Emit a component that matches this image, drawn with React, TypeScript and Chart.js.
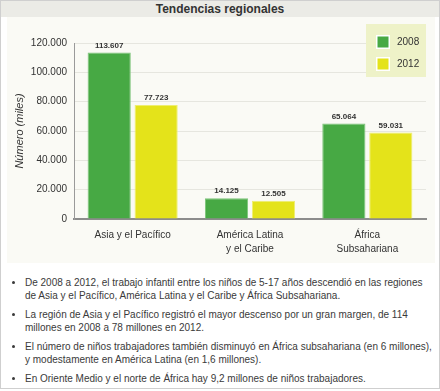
import React, { useEffect, useRef } from "react";
import { Chart, registerables } from "chart.js";

Chart.register(...registerables);

const categories: string[][] = [
  ["Asia y el Pacífico"],
  ["América Latina", "y el Caribe"],
  ["África", "Subsahariana"],
];
const seriesLabels = ["2008", "2012"];
const values2008 = [113607, 14125, 65064];
const values2012 = [77723, 12505, 59031];
const yMax = 120000;
const yStep = 20000;
const yTitle = "Número (miles)";
const chartTitle = "Tendencias regionales";
const bullets = [
  "De 2008 a 2012, el trabajo infantil entre los niños de 5-17 años descendió en las regiones de Asia y el Pacífico, América Latina y el Caribe y África Subsahariana.",
  "La región de Asia y el Pacífico registró el mayor descenso por un gran margen, de 114 millones en 2008 a 78 millones en 2012.",
  "El número de niños trabajadores también disminuyó en África subsahariana (en 6 millones), y modestamente en América Latina (en 1,6 millones).",
  "En Oriente Medio y el norte de África hay 9,2 millones de niños trabajadores.",
];

const GREEN = "#47a944";
const GREEN_EDGE = "#7cc479";
const YELLOW = "#e4e31a";
const YELLOW_EDGE = "#eeee70";
const FONT = "'Liberation Sans', Arial, sans-serif";

const fmt = (n: number) =>
  Math.round(n)
    .toString()
    .replace(/\B(?=(\d{3})+(?!\d))/g, ".");

const valueLabels = {
  id: "valueLabels",
  afterDatasetsDraw(chart: any) {
    const ctx = chart.ctx;
    ctx.save();
    ctx.font = `bold 8px ${FONT}`;
    ctx.fillStyle = "#333";
    ctx.textAlign = "center";
    ctx.textBaseline = "bottom";
    chart.data.datasets.forEach((ds: any, i: number) => {
      const meta = chart.getDatasetMeta(i);
      meta.data.forEach((el: any, j: number) => {
        ctx.fillText(fmt(ds.data[j]), el.x, el.y - 3);
      });
    });
    ctx.restore();
  },
};

const boxLegend = {
  id: "boxLegend",
  afterDraw(chart: any) {
    const ctx = chart.ctx;
    const area = chart.chartArea;
    const w = 60;
    const h = 53;
    const x0 = area.right - w;
    const y0 = area.top - 19;
    ctx.save();
    ctx.fillStyle = "#eef2c8";
    ctx.fillRect(x0, y0, w, h);
    ctx.font = `10px ${FONT}`;
    ctx.textBaseline = "middle";
    ctx.textAlign = "left";
    chart.data.datasets.forEach((ds: any, i: number) => {
      const sy = y0 + 12 + i * 22;
      ctx.fillStyle = "#ffffff";
      ctx.fillRect(x0 + 10, sy - 1, 14, 14);
      ctx.fillStyle = ds.backgroundColor;
      ctx.fillRect(x0 + 11.5, sy + 0.5, 11, 11);
      ctx.fillStyle = "#333";
      ctx.fillText(ds.label, x0 + 31, sy + 6.5);
    });
    ctx.restore();
  },
};

function BarChart() {
  const ref = useRef<HTMLCanvasElement | null>(null);
  useEffect(() => {
    if (!ref.current) return;
    const chart = new Chart(ref.current, {
      type: "bar",
      data: {
        labels: categories,
        datasets: [
          {
            label: seriesLabels[0],
            data: values2008,
            backgroundColor: GREEN,
            borderColor: GREEN_EDGE,
            borderWidth: 1,
          },
          {
            label: seriesLabels[1],
            data: values2012,
            backgroundColor: YELLOW,
            borderColor: YELLOW_EDGE,
            borderWidth: 1,
          },
        ],
      },
      options: {
        animation: false,
        responsive: false,
        layout: { padding: { top: 26, right: 9, left: 0, bottom: 0 } },
        plugins: {
          legend: { display: false },
          tooltip: { enabled: false },
        },
        datasets: {
          bar: { categoryPercentage: 0.8, barPercentage: 0.92 },
        },
        scales: {
          x: {
            grid: { display: true, color: "rgba(0,0,0,0)", drawTicks: false },
            border: { display: true, color: "#8c8c8c", width: 2 },
            ticks: {
              color: "#333",
              font: { family: FONT, size: 10, lineHeight: 1.4 },
              padding: 9,
              maxRotation: 0,
              autoSkip: false,
            },
            afterFit: (s: any) => {
              s.height = 44;
            },
          },
          y: {
            min: 0,
            max: yMax,
            grid: { color: "#e6e6df", drawTicks: false },
            border: { display: true, color: "#9a9a9a", width: 1 },
            ticks: {
              stepSize: yStep,
              color: "#333",
              font: { family: FONT, size: 10 },
              padding: 7,
              callback: (v: any) => fmt(Number(v)),
            },
            title: {
              display: true,
              text: yTitle,
              color: "#333",
              font: { family: FONT, size: 11, style: "italic" },
              padding: { top: 6, bottom: 0 },
            },
            afterFit: (s: any) => {
              s.width = 67;
            },
          },
        },
      },
      plugins: [valueLabels, boxLegend],
    });
    return () => chart.destroy();
  }, []);
  return <canvas ref={ref} width={428} height={246} style={{ display: "block" }} />;
}

export default function App() {
  return (
    <div
      style={{
        position: "absolute",
        left: 0,
        top: 0,
        width: 440,
        height: 389,
        boxSizing: "border-box",
        border: "1px solid #cfcfcf",
        background: "#ffffff",
        fontFamily: FONT,
      }}
    >
      <style>{"body{margin:0}"}</style>
      <div
        style={{
          position: "absolute",
          left: 0,
          top: 0,
          width: 438,
          height: 16,
          background: "#ebebe6",
          color: "#333",
          fontWeight: "bold",
          fontSize: 12,
          lineHeight: "16px",
          textAlign: "center",
        }}
      >
        {chartTitle}
      </div>
      <div
        style={{
          position: "absolute",
          left: 6,
          top: 16,
          width: 428,
          height: 246,
          background: "#fafaf5",
        }}
      >
        <BarChart />
      </div>
      <ul
        style={{
          position: "absolute",
          left: 0,
          top: 275,
          margin: 0,
          paddingLeft: 24,
          paddingRight: 0,
          width: 411,
          fontSize: 10,
          lineHeight: "13px",
          color: "#3a3a3a",
        }}
      >
        {bullets.map((b, i) => (
          <li key={i} style={{ marginBottom: 6 }}>
            {b}
          </li>
        ))}
      </ul>
    </div>
  );
}
